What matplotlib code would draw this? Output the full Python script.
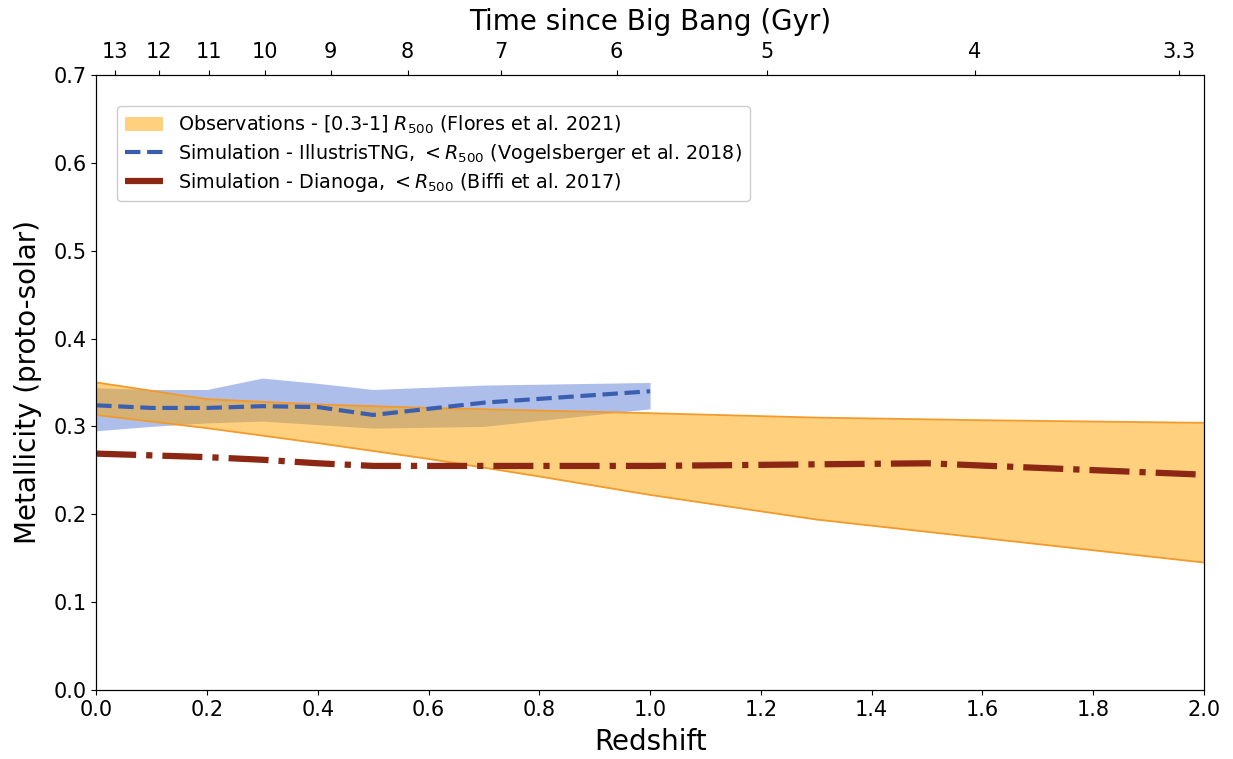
import numpy as np
import matplotlib
matplotlib.use("Agg")
import matplotlib.pyplot as plt

ticks_fontsize = 15
label_fontsize = 20

plt.rcParams['xtick.labelsize'] = ticks_fontsize
plt.rcParams['ytick.labelsize'] = ticks_fontsize
plt.rcParams['axes.labelsize'] = label_fontsize

# Observations, [0.3-1] R500 band
obs_z = [0.0, 0.2, 0.4, 0.6, 0.8, 1.0, 1.3, 1.6, 2.0]
obs_upper = [0.350, 0.331, 0.325, 0.321, 0.318, 0.315, 0.310, 0.307, 0.304]
obs_lower = [0.313, 0.298, 0.281, 0.263, 0.243, 0.222, 0.194, 0.173, 0.145]

# IllustrisTNG mean and scatter
tng_z = [0.0, 0.1, 0.2, 0.3, 0.4, 0.5, 0.7, 1.0]
tng_mean = [0.324, 0.321, 0.321, 0.323, 0.322, 0.313, 0.327, 0.340]
tng_upper = [0.344, 0.342, 0.342, 0.355, 0.349, 0.342, 0.347, 0.350]
tng_lower = [0.295, 0.300, 0.304, 0.306, 0.302, 0.298, 0.300, 0.320]

# Dianoga mean
dia_z = [0.0, 0.1, 0.2, 0.3, 0.4, 0.5, 0.7, 1.0, 1.5, 2.0]
dia_mean = [0.269, 0.267, 0.265, 0.262, 0.258, 0.255, 0.255, 0.255, 0.258, 0.245]

# Top axis: cosmic time labels (Gyr)
age_ticks = [13, 12, 11, 10, 9, 8, 7, 6, 5, 4, 3.3]
H0 = 70.0
Om0 = 0.3


def z_at_age(t_gyr):
    """Redshift at a given cosmic age for flat LCDM."""
    ol = 1.0 - Om0
    t_h = 977.8 / H0
    pref = 2.0 / (3.0 * np.sqrt(ol)) * t_h
    x = np.sinh(np.asarray(t_gyr) / pref) / np.sqrt(ol / Om0)
    return x ** (-2.0 / 3.0) - 1.0


fig = plt.figure(figsize=(12.33, 7.59), dpi=100)
ax = fig.add_axes([0.078, 0.091, 0.8985, 0.8102])

ax.fill_between(tng_z, tng_lower, tng_upper, color="#4a6fd4", alpha=0.45,
                linewidth=0, zorder=1)
ax.fill_between(obs_z, obs_lower, obs_upper, color="orange", alpha=0.5,
                linewidth=0, zorder=2,
                label=r"Observations - [0.3-1] $R_{500}$ (Flores et al. 2021)")
ax.plot(obs_z, obs_upper, color="#f39a2b", lw=1.3, zorder=3)
ax.plot(obs_z, obs_lower, color="#f39a2b", lw=1.3, zorder=3)

ax.plot(tng_z, tng_mean, color="#3b5fb0", ls="--", lw=3, zorder=4,
        label=r"Simulation - IllustrisTNG, $<R_{500}$ (Vogelsberger et al. 2018)")
ax.plot(dia_z, dia_mean, color="#8b2713", ls="-.", lw=4.5, zorder=4,
        label=r"Simulation - Dianoga, $<R_{500}$ (Biffi et al. 2017)")

ax.set_xlim(0, 2)
ax.set_ylim(0, 0.7)
ax.set_xticks(np.arange(0, 2.01, 0.2))
ax.set_yticks(np.arange(0, 0.71, 0.1))
ax.set_xlabel("Redshift", labelpad=6)
ax.set_ylabel("Metallicity (proto-solar)", labelpad=8)

leg = ax.legend(loc="upper left", fontsize=13.8, bbox_to_anchor=(0.01, 0.965),
                framealpha=1, edgecolor="#cccccc", labelspacing=0.3)

ax2 = ax.twiny()
ax2.set_xlim(ax.get_xlim())
ax2.set_xticks(z_at_age(age_ticks))
ax2.set_xticklabels([f"{a:g}" for a in age_ticks])
ax2.tick_params(axis="x", pad=5.5)
ax2.set_xlabel("Time since Big Bang (Gyr)", labelpad=9)

fig.savefig("out.png", dpi=100)
